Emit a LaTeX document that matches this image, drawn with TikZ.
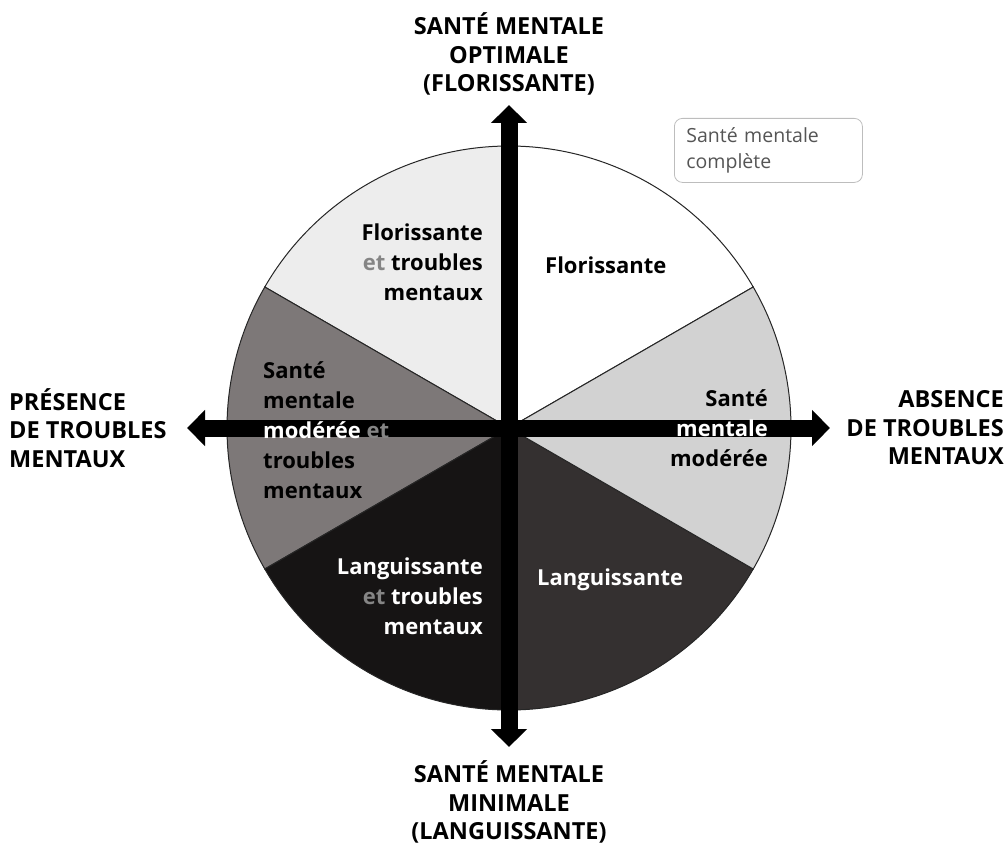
\documentclass[tikz,border=0pt]{standalone}
\usepackage{fontspec}
\setmainfont{Open Sans}
\usetikzlibrary{arrows.meta}
\definecolor{secwhite}{HTML}{FFFFFF}
\definecolor{seclight}{HTML}{EDEDED}
\definecolor{secmid}{HTML}{7D7878}
\definecolor{secvdark}{HTML}{161414}
\definecolor{secdark}{HTML}{343030}
\definecolor{secright}{HTML}{D2D2D2}
\definecolor{etgray}{HTML}{858585}
\definecolor{legendtext}{HTML}{555555}
\definecolor{legendborder}{HTML}{BDBDBD}
\begin{document}
\begin{tikzpicture}[x=1pt,y=-1pt,
  sectorline/.style={draw=black!85,line width=1pt},
  lbl/.style={font=\bfseries\fontsize{22}{30}\selectfont,inner sep=0pt},
  axislbl/.style={font=\bfseries\fontsize{23.5}{28.5}\selectfont,inner sep=0pt},
  axis/.style={line width=17pt,draw=black,-{Triangle[width=35pt,length=18pt]}},
  legend/.style={draw=legendborder,line width=0.8pt,rounded corners=8pt,text=legendtext,
    font=\fontsize{19.5}{26}\selectfont,align=left,text width=164pt,inner xsep=12pt,inner ysep=5pt,minimum height=64pt}]
\useasboundingbox (0,0) rectangle (1008,845);
\coordinate (O) at (509,428);
\def\R{282}
% sectors (visual angle theta written as -theta because y is flipped)
\fill[secwhite,sectorline] (O) -- ++(-30:\R) arc[start angle=-30,end angle=-90,radius=\R] -- cycle;
\fill[seclight,sectorline] (O) -- ++(-90:\R) arc[start angle=-90,end angle=-150,radius=\R] -- cycle;
\fill[secmid,sectorline] (O) -- ++(-150:\R) arc[start angle=-150,end angle=-210,radius=\R] -- cycle;
\fill[secvdark,sectorline] (O) -- ++(-210:\R) arc[start angle=-210,end angle=-270,radius=\R] -- cycle;
\fill[secdark,sectorline] (O) -- ++(-270:\R) arc[start angle=-270,end angle=-330,radius=\R] -- cycle;
\fill[secright,sectorline] (O) -- ++(30:\R) arc[start angle=30,end angle=-30,radius=\R] -- cycle;
% axes
\coordinate (top) at (509,105);
\coordinate (bottom) at (509,747);
\coordinate (left) at (187,428);
\coordinate (right) at (830,428);
\draw[axis] (O) -- (top);
\draw[axis] (O) -- (bottom);
\draw[axis] (O) -- (left);
\draw[axis] (O) -- (right);
% sector labels
\node[lbl,anchor=east,align=right] (fet) at (483,262) {Florissante\\{\color{etgray}et} troubles\\mentaux};
\node[lbl,anchor=west] (flo) at (545,265) {Florissante};
\node[lbl,anchor=east,align=right] (smm) at (768,428) {Santé\\{\color{white}mentale}\\modérée};
\node[lbl,anchor=west,align=left] (smmt) at (263,430) {Santé\\mentale\\{\color{white}modérée} {\color{etgray}et}\\troubles\\mentaux};
\node[lbl,anchor=east,align=right,text=white] (lant) at (483,596) {Languissante\\{\color{etgray}et} troubles\\mentaux};
\node[lbl,anchor=west,text=white] (lan) at (537,580) {Languissante};
% axis labels
\node[axislbl,align=center] (toplbl) at (509,54) {SANTÉ MENTALE\\OPTIMALE\\(FLORISSANTE)};
\node[axislbl,align=center] (botlbl) at (509,802) {SANTÉ MENTALE\\MINIMALE\\(LANGUISSANTE)};
\node[axislbl,align=left,anchor=west] (leftlbl) at (9,428) {PRÉSENCE\\DE TROUBLES\\MENTAUX};
\node[axislbl,align=right,anchor=east] (rightlbl) at (1004,428) {ABSENCE\\DE TROUBLES\\MENTAUX};
% legend
\node[legend,anchor=north west] (leg) at (674,118) {Santé mentale\\complète};
\end{tikzpicture}
\end{document}
